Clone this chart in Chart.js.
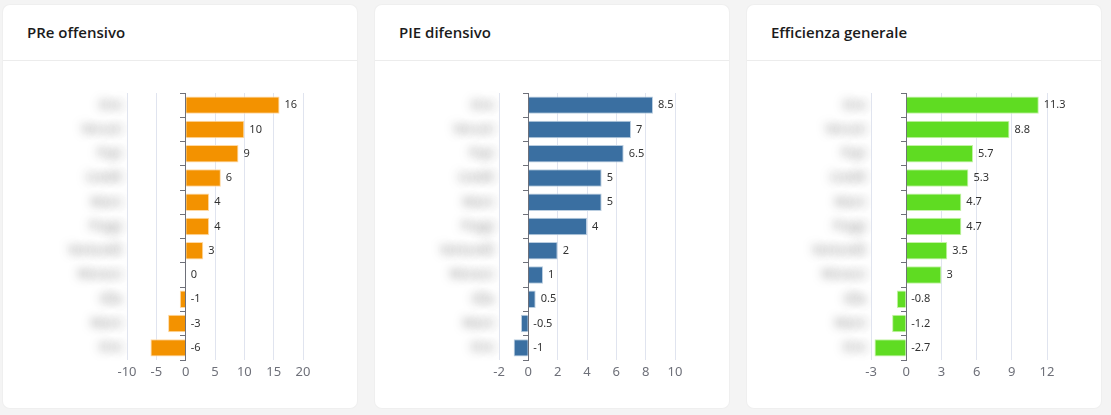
<!DOCTYPE html>
<html>
<head>
<meta charset="utf-8">
<script src="https://cdn.jsdelivr.net/npm/chart.js@4"></script>
<style>
  html, body { margin: 0; padding: 0; background: #f4f4f4; }
  body { width: 1111px; height: 415px; overflow: hidden; font-family: "Noto Sans", "Open Sans", sans-serif; }
  .row { position: absolute; left: 3px; top: 5px; display: flex; gap: 18px; }
  .card { width: 354px; height: 403px; background: #fff; border-radius: 7px; box-shadow: 0 0 0 1px #efefef; overflow: hidden; }
  .card h3 { margin: 0; height: 55px; line-height: 55px; padding-left: 24px; font-family: "Open Sans", sans-serif; font-size: 15px; font-weight: 600; color: #1b1b1b; border-bottom: 1px solid #ececec; }
  .body { position: relative; width: 354px; height: 347px; }
</style>
</head>
<body>
<div class="row">
  <div class="card"><h3>PRe offensivo</h3><div class="body"><canvas id="chartOff"></canvas></div></div>
  <div class="card"><h3>PIE difensivo</h3><div class="body"><canvas id="chartDef"></canvas></div></div>
  <div class="card"><h3>Efficienza generale</h3><div class="body"><canvas id="chartEff"></canvas></div></div>
</div>
<script>
// --- data (names are blurred in the original) ---
const playersOff = ["Orsi", "Veruzzi", "Papi", "Livaldi", "Marci", "Poggi", "Venturelli", "Moracci", "Olla", "Marzi", "Orsi"];
const playersDef = ["Orsi", "Veruzzi", "Papi", "Livaldi", "Marci", "Poggi", "Venturelli", "Moracci", "Olla", "Marzi", "Orsi"];
const playersEff = ["Orsi", "Veruzzi", "Papi", "Livaldi", "Marci", "Poggi", "Venturelli", "Moracci", "Olla", "Marzi", "Orsi"];

const valuesOff = [16, 10, 9, 6, 4, 4, 3, 0, -1, -3, -6];
const valuesDef = [8.5, 7, 6.5, 5, 5, 4, 2, 1, 0.5, -0.5, -1];
const valuesEff = [11.3, 8.8, 5.7, 5.3, 4.7, 4.7, 3.5, 3, -0.8, -1.2, -2.7];

// x axis ranges / tick steps
const rangeOff = [-10, 20, 5];
const rangeDef = [-2, 10, 2];
const rangeEff = [-3, 12, 3];

// --- value labels next to each bar ---
const valueLabels = {
  id: 'valueLabels',
  afterDatasetsDraw(chart) {
    const ctx = chart.ctx;
    const x0 = chart.scales.x.getPixelForValue(0);
    const meta = chart.getDatasetMeta(0);
    const data = chart.data.datasets[0].data;
    ctx.save();
    ctx.font = '11px "Noto Sans", sans-serif';
    ctx.fillStyle = '#333';
    ctx.textBaseline = 'middle';
    ctx.textAlign = 'left';
    meta.data.forEach((bar, i) => {
      const x = Math.max(bar.x, x0) + 5;
      ctx.fillText(String(data[i]), x, bar.y);
    });
    ctx.restore();
  }
};

// --- blur the player names like in the screenshot (shadow trick) ---
const blurNames = {
  id: 'blurNames',
  beforeDraw(chart) {
    const s = chart.scales.names;
    if (s && !s._blurred) {
      const orig = s.drawLabels;
      s.drawLabels = function(area) {
        const ctx = this.ctx;
        const fill = ctx.fillText;
        ctx.fillText = function(t, x, y, w) {
          this.shadowColor = 'rgba(110,110,110,0.9)';
          this.shadowBlur = 10;
          this.shadowOffsetX = 3000;
          this.shadowOffsetY = 0;
          fill.call(this, t, x - 3000, y, w);
        };
        orig.call(this, area);
        ctx.fillText = fill;
      };
      s._blurred = true;
    }
  }
};

function makeChart(id, labels, values, range, color, border) {
  const ctx = document.getElementById(id).getContext('2d');
  return new Chart(ctx, {
    type: 'bar',
    data: {
      labels: labels,
      datasets: [{
        data: values,
        backgroundColor: color,
        borderColor: border,
        borderWidth: 1,
        yAxisID: 'names'
      }]
    },
    options: {
      indexAxis: 'y',
      responsive: false,
      animation: false,
      layout: { padding: { left: 0, right: 54, top: 32, bottom: 18 } },
      plugins: { legend: { display: false }, tooltip: { enabled: false } },
      scales: {
        x: {
          min: range[0],
          max: range[1],
          ticks: { stepSize: range[2], color: '#6e7079', font: { size: 13, family: '"Noto Sans", sans-serif' }, padding: 4 },
          grid: { color: '#e0e4ef', drawTicks: false },
          border: { display: false },
          afterFit(scale) { scale.height = 30; }
        },
        names: {
          type: 'category',
          axis: 'y',
          position: 'left',
          grid: { display: false, drawTicks: false },
          border: { display: false },
          ticks: { color: '#9a9a9a', padding: 5, font: { size: 12, family: '"Noto Sans", sans-serif' } },
          afterFit(scale) { scale.width = 124; }
        },
        zero: {
          type: 'category',
          axis: 'y',
          position: { x: 0 },
          offset: true,
          grid: { display: true, drawOnChartArea: false, drawTicks: true, tickLength: 5, offset: true, color: '#6e7079' },
          border: { display: true, color: '#6e7079', width: 1 },
          ticks: { display: false },
          afterFit(scale) { scale.width = 0; }
        }
      }
    },
    plugins: [valueLabels, blurNames]
  });
}

function sizeCanvas(id) {
  const c = document.getElementById(id);
  c.width = 354; c.height = 347;
  c.style.width = '354px'; c.style.height = '347px';
}
['chartOff', 'chartDef', 'chartEff'].forEach(sizeCanvas);

makeChart('chartOff', playersOff, valuesOff, rangeOff, '#f39200', '#ffd9a3');
makeChart('chartDef', playersDef, valuesDef, rangeDef, '#3a6fa1', '#b9cde0');
makeChart('chartEff', playersEff, valuesEff, rangeEff, '#5fdc22', '#c4f3a6');
</script>
</body>
</html>
